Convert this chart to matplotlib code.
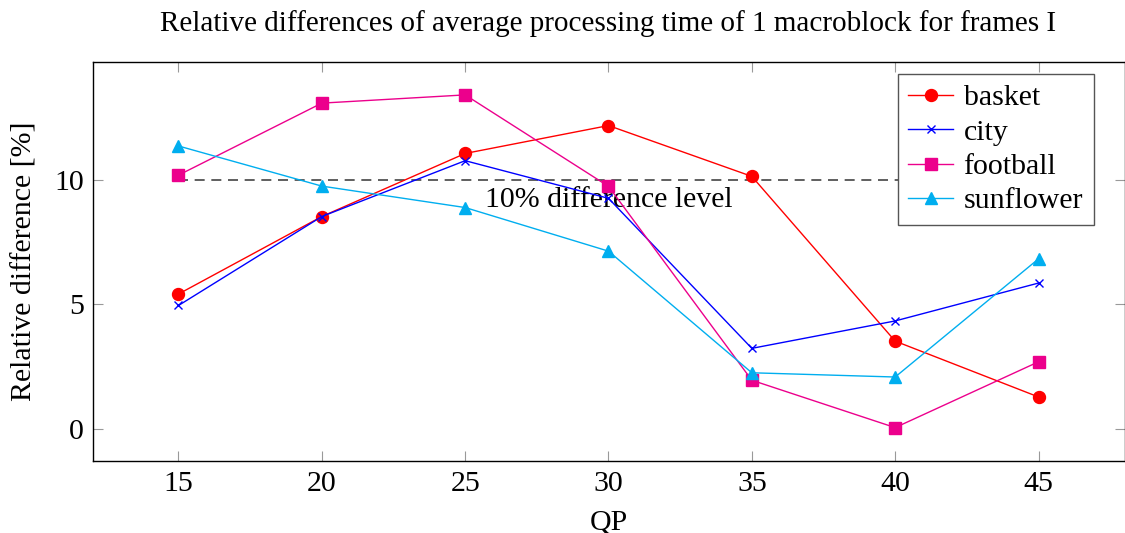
import numpy as np
import matplotlib
matplotlib.use("Agg")
import matplotlib.pyplot as plt

plt.rcParams['font.family'] = ['Liberation Serif', 'DejaVu Serif']

qp = [15, 20, 25, 30, 35, 40, 45]
basket    = [5.41, 8.52, 11.05, 12.17, 10.13, 3.52, 1.28]
city      = [4.95, 8.52, 10.76, 9.25, 3.23, 4.33, 5.85]
football  = [10.18, 13.07, 13.40, 9.73, 1.95, 0.05, 2.69]
sunflower = [11.35, 9.74, 8.88, 7.13, 2.25, 2.08, 6.82]
level = 10

fs = 21.5

fig = plt.figure(figsize=(11.25, 5.33), dpi=100)
ax = fig.add_axes([92.5 / 1125, 72 / 533, 1032 / 1125, 399 / 533])

# threshold line
ax.plot([qp[0], qp[-1]], [level, level], color='#444444', lw=1.2,
        dashes=(6, 4), zorder=1)
ax.annotate("10% difference level", xy=(30, level), xytext=(0, -5),
            textcoords='offset points', ha='center', va='top', fontsize=fs)

ax.plot(qp, basket, color='#FF0000', lw=1.0, marker='o', ms=8.6,
        mec='#FF0000', label='basket', zorder=3)
ax.plot(qp, city, color='#0000FF', lw=1.0, marker='x', ms=6, mew=1.0,
        label='city', zorder=3)
ax.plot(qp, football, color='#EC008C', lw=1.0, marker='s', ms=8.2,
        mec='#EC008C', label='football', zorder=3)
ax.plot(qp, sunflower, color='#00AEEF', lw=1.0, marker='^', ms=8.2,
        mec='#00AEEF', label='sunflower', zorder=3)

ax.set_xlim(12, 48)
ax.set_ylim(-1.29, 14.72)
ax.set_xticks(qp)
ax.set_yticks([0, 5, 10])
ax.tick_params(direction='in', length=7.2, width=0.8, color='#999999',
               top=True, right=True, labelsize=fs)
ax.tick_params(axis='x', pad=7)
ax.tick_params(axis='y', pad=6)
for sp in ax.spines.values():
    sp.set_linewidth(1.0)
    sp.set_color('black')

ax.set_xlabel("QP", fontsize=fs, labelpad=9)
ax.set_ylabel("Relative difference [%]", fontsize=fs, labelpad=12)
ax.set_title("Relative differences of average processing time of 1 macroblock for frames I",
             fontsize=21, pad=22)

leg = ax.legend(loc='upper right', bbox_to_anchor=(0.970, 0.970),
                borderaxespad=0, fontsize=fs, fancybox=False, framealpha=1,
                edgecolor='#555555', handlelength=1.5, labelspacing=0.25,
                handletextpad=0.35, borderpad=0.35)
leg.get_frame().set_linewidth(1.0)

fig.savefig("out.png", dpi=100)
